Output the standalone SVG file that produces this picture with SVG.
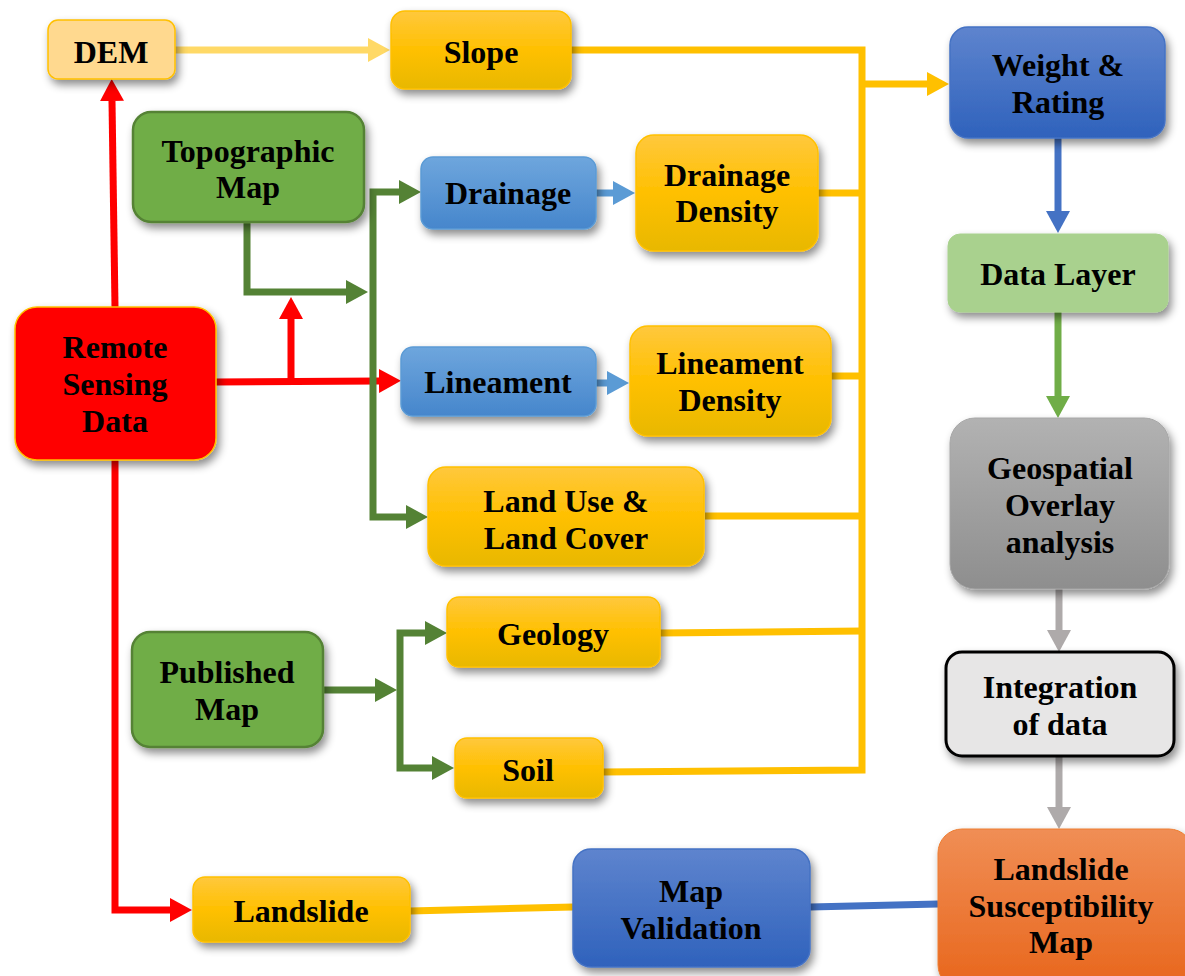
<svg xmlns="http://www.w3.org/2000/svg" width="1185" height="976" viewBox="0 0 1185 976">
<style>
.t{font-family:"Liberation Serif","Times New Roman",serif;font-weight:bold;font-size:32px;fill:#000;text-anchor:middle}
.box{filter:url(#sh)}
.c{fill:none;stroke-width:7;stroke-linejoin:miter}
</style>
<defs>
<filter id="sh" x="-20%" y="-20%" width="140%" height="150%">
<feDropShadow dx="3" dy="5" stdDeviation="4" flood-color="#000" flood-opacity="0.45"/>
</filter>
<linearGradient id="gy" x1="0" y1="0" x2="0" y2="1"><stop offset="0" stop-color="#FFC83D"/><stop offset="0.5" stop-color="#FFC000"/><stop offset="1" stop-color="#E8B800"/></linearGradient>
<linearGradient id="gb" x1="0" y1="0" x2="0" y2="1"><stop offset="0" stop-color="#6EA6DD"/><stop offset="1" stop-color="#4686CC"/></linearGradient>
<linearGradient id="gd" x1="0" y1="0" x2="0" y2="1"><stop offset="0" stop-color="#5E84CE"/><stop offset="1" stop-color="#2F62BC"/></linearGradient>
<linearGradient id="gg" x1="0" y1="0" x2="0" y2="1"><stop offset="0" stop-color="#B2B2B2"/><stop offset="1" stop-color="#8E8E8E"/></linearGradient>
<linearGradient id="go" x1="0" y1="0" x2="0" y2="1"><stop offset="0" stop-color="#F08E55"/><stop offset="1" stop-color="#E8661C"/></linearGradient>
<marker id="mR" viewBox="0 0 22 24" refX="0" refY="12" markerWidth="22" markerHeight="24" markerUnits="userSpaceOnUse" orient="auto-start-reverse"><path d="M0,0L22,12L0,24z" fill="#FF0000"/></marker>
<marker id="mG" viewBox="0 0 22 24" refX="0" refY="12" markerWidth="22" markerHeight="24" markerUnits="userSpaceOnUse" orient="auto-start-reverse"><path d="M0,0L22,12L0,24z" fill="#548235"/></marker>
<marker id="mY" viewBox="0 0 22 24" refX="0" refY="12" markerWidth="22" markerHeight="24" markerUnits="userSpaceOnUse" orient="auto-start-reverse"><path d="M0,0L22,12L0,24z" fill="#FFC000"/></marker>
<marker id="mLY" viewBox="0 0 22 24" refX="0" refY="12" markerWidth="22" markerHeight="24" markerUnits="userSpaceOnUse" orient="auto-start-reverse"><path d="M0,0L22,12L0,24z" fill="#FFD966"/></marker>
<marker id="mB" viewBox="0 0 22 24" refX="0" refY="12" markerWidth="22" markerHeight="24" markerUnits="userSpaceOnUse" orient="auto-start-reverse"><path d="M0,0L22,12L0,24z" fill="#5B9BD5"/></marker>
<marker id="mD" viewBox="0 0 22 24" refX="0" refY="12" markerWidth="22" markerHeight="24" markerUnits="userSpaceOnUse" orient="auto-start-reverse"><path d="M0,0L22,12L0,24z" fill="#4472C4"/></marker>
<marker id="mLG" viewBox="0 0 22 24" refX="0" refY="12" markerWidth="22" markerHeight="24" markerUnits="userSpaceOnUse" orient="auto-start-reverse"><path d="M0,0L22,12L0,24z" fill="#70AD47"/></marker>
<marker id="mS" viewBox="0 0 22 24" refX="0" refY="12" markerWidth="22" markerHeight="24" markerUnits="userSpaceOnUse" orient="auto-start-reverse"><path d="M0,0L22,12L0,24z" fill="#AEAAAA"/></marker>
</defs>
<rect width="1185" height="976" fill="#fff"/>

<g id="connectors">
<path class="c" stroke="#FFD966" d="M175,50L368,50" marker-end="url(#mLY)"/>
<path class="c" stroke="#FFC000" d="M569,50L862,50L862,770L603,772"/>
<path class="c" stroke="#FFC000" d="M862,84L927,84" marker-end="url(#mY)"/>
<path class="c" stroke="#FFC000" d="M818,193L862,193"/>
<path class="c" stroke="#FFC000" d="M831,376L862,376"/>
<path class="c" stroke="#FFC000" d="M705,516L862,516"/>
<path class="c" stroke="#FFC000" d="M660,633L862,631"/>
<path class="c" stroke="#FFC000" d="M410,911L573,907"/>
<path class="c" stroke="#4472C4" d="M810,907L938,904"/>
<path class="c" stroke="#5B9BD5" d="M596,193L613,193" marker-end="url(#mB)"/>
<path class="c" stroke="#5B9BD5" d="M596,383L607,383" marker-end="url(#mB)"/>
<path class="c" stroke="#FF0000" d="M115,307L112,101" marker-end="url(#mR)"/>
<path class="c" stroke="#FF0000" d="M216,382L379,381" marker-end="url(#mR)"/>
<path class="c" stroke="#FF0000" d="M291,381L291,319" marker-end="url(#mR)"/>
<path class="c" stroke="#FF0000" d="M115,460L115,910L170,910" marker-end="url(#mR)"/>
<path class="c" stroke="#548235" d="M247,222L247,292L346,292" marker-end="url(#mG)"/>
<path class="c" stroke="#548235" d="M399,192L373,192L373,517L406,517" marker-start="url(#mG)" marker-end="url(#mG)"/>
<path class="c" stroke="#548235" d="M323,690L375,690" marker-end="url(#mG)"/>
<path class="c" stroke="#548235" d="M425,633L400,633L400,768L432,768" marker-start="url(#mG)" marker-end="url(#mG)"/>
<path class="c" stroke="#4472C4" d="M1058,138L1058,211" marker-end="url(#mD)"/>
<path class="c" stroke="#70AD47" d="M1058,312L1058,396" marker-end="url(#mLG)"/>
<path class="c" stroke="#AEAAAA" d="M1059,589L1059,630" marker-end="url(#mS)"/>
<path class="c" stroke="#AEAAAA" d="M1059,757L1059,807" marker-end="url(#mS)"/>
</g>

<g id="dem"><rect class="box" x="48" y="20" width="127" height="59" rx="10" fill="#FFD98F" stroke="#FFC000" stroke-width="1.5"/><text class="t" x="111" y="63">DEM</text></g>
<g id="slope"><rect class="box" x="391" y="11" width="180" height="78" rx="14" fill="url(#gy)" stroke="#FFC000" stroke-width="1.5"/><text class="t" x="481" y="63">Slope</text></g>
<g id="topographic"><rect class="box" x="133" y="112" width="231" height="110" rx="18" fill="#70AD47" stroke="#548235" stroke-width="2.5"/><text class="t" x="248" y="162">Topographic</text><text class="t" x="248" y="198">Map</text></g>
<g id="drainage"><rect class="box" x="421" y="157" width="175" height="72" rx="12" fill="url(#gb)" stroke="#5B9BD5" stroke-width="1.5"/><text class="t" x="508" y="204">Drainage</text></g>
<g id="drainage-density"><rect class="box" x="636" y="135" width="182" height="116" rx="18" fill="url(#gy)" stroke="#FFC000" stroke-width="1.5"/><text class="t" x="727" y="186">Drainage</text><text class="t" x="727" y="222">Density</text></g>
<g id="remote-sensing"><rect class="box" x="15" y="307" width="201" height="153" rx="22" fill="#FF0000" stroke="#FFC000" stroke-width="1.5"/><text class="t" x="115" y="358">Remote</text><text class="t" x="115" y="395">Sensing</text><text class="t" x="115" y="432">Data</text></g>
<g id="lineament"><rect class="box" x="401" y="347" width="195" height="69" rx="12" fill="url(#gb)" stroke="#5B9BD5" stroke-width="1.5"/><text class="t" x="498" y="393">Lineament</text></g>
<g id="lineament-density"><rect class="box" x="630" y="326" width="201" height="110" rx="18" fill="url(#gy)" stroke="#FFC000" stroke-width="1.5"/><text class="t" x="730" y="374">Lineament</text><text class="t" x="730" y="411">Density</text></g>
<g id="lulc"><rect class="box" x="428" y="467" width="276" height="99" rx="18" fill="url(#gy)" stroke="#FFC000" stroke-width="1.5"/><text class="t" x="566" y="512">Land Use &amp;</text><text class="t" x="566" y="549">Land Cover</text></g>
<g id="geology"><rect class="box" x="447" y="597" width="213" height="70" rx="12" fill="url(#gy)" stroke="#FFC000" stroke-width="1.5"/><text class="t" x="553" y="645">Geology</text></g>
<g id="published-map"><rect class="box" x="132" y="632" width="191" height="115" rx="18" fill="#70AD47" stroke="#548235" stroke-width="2.5"/><text class="t" x="227" y="683">Published</text><text class="t" x="227" y="720">Map</text></g>
<g id="soil"><rect class="box" x="455" y="738" width="148" height="60" rx="12" fill="url(#gy)" stroke="#FFC000" stroke-width="1.5"/><text class="t" x="528" y="781">Soil</text></g>
<g id="landslide"><rect class="box" x="193" y="877" width="217" height="65" rx="12" fill="url(#gy)" stroke="#FFC000" stroke-width="1.5"/><text class="t" x="301" y="922">Landslide</text></g>
<g id="map-validation"><rect class="box" x="573" y="849" width="237" height="118" rx="18" fill="url(#gd)" stroke="#4472C4" stroke-width="1.5"/><text class="t" x="691" y="902">Map</text><text class="t" x="691" y="939">Validation</text></g>
<g id="weight-rating"><rect class="box" x="950" y="27" width="215" height="111" rx="18" fill="url(#gd)" stroke="#4472C4" stroke-width="1.5"/><text class="t" x="1058" y="76">Weight &amp;</text><text class="t" x="1058" y="113">Rating</text></g>
<g id="data-layer"><rect class="box" x="948" y="234" width="220" height="78" rx="12" fill="#A9D18E" stroke="#A9D18E" stroke-width="1"/><text class="t" x="1058" y="285">Data Layer</text></g>
<g id="geospatial"><rect class="box" x="950" y="418" width="219" height="171" rx="25" fill="url(#gg)" stroke="#A6A6A6" stroke-width="1"/><text class="t" x="1060" y="479">Geospatial</text><text class="t" x="1060" y="516">Overlay</text><text class="t" x="1060" y="553">analysis</text></g>
<g id="integration"><rect class="box" x="946" y="652" width="228" height="104" rx="16" fill="#E7E6E6" stroke="#000" stroke-width="3"/><text class="t" x="1060" y="698">Integration</text><text class="t" x="1060" y="735">of data</text></g>
<g id="lsm"><rect class="box" x="938" y="829" width="255" height="160" rx="24" fill="url(#go)" stroke="#ED7D31" stroke-width="1"/><text class="t" x="1061" y="880">Landslide</text><text class="t" x="1061" y="917">Susceptibility</text><text class="t" x="1061" y="953">Map</text></g>
</svg>
